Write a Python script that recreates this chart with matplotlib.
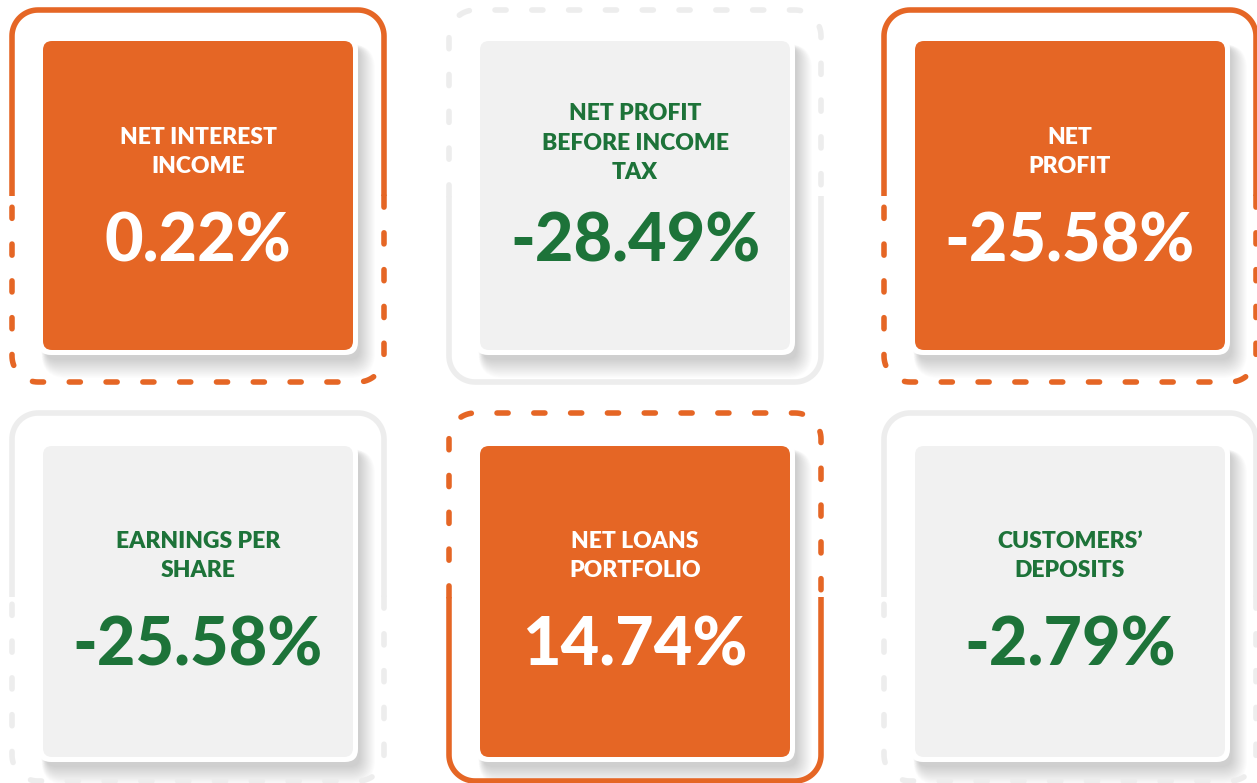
import matplotlib.pyplot as plt
import numpy as np
from matplotlib.patches import FancyBboxPatch

plt.rcParams['lines.scale_dashes'] = False

# card data
titles = [
    ["NET INTEREST", "INCOME"],
    ["NET PROFIT", "BEFORE INCOME", "TAX"],
    ["NET", "PROFIT"],
    ["EARNINGS PER", "SHARE"],
    ["NET LOANS", "PORTFOLIO"],
    ["CUSTOMERS\u2019", "DEPOSITS"],
]
values = ["0.22%", "-28.49%", "-25.58%", "-25.58%", "14.74%", "-2.79%"]
highlight = [True, False, True, False, True, False]

ORANGE = "#E56625"
GREEN = "#1D7339"
GREY_CARD = "#F1F1F1"
GREY_FRAME = "#EDEDED"

# layout (pixels, y going down)
col_cx = [198, 635, 1070]
frame_top = [10, 413]
frame_bot = [382, 781]
card_top = [41, 446]
card_bot = [350, 757]
title_base = [173, 577]
value_base = [261, 666]

fig = plt.figure(figsize=(12.57, 7.83), dpi=100)
ax = fig.add_axes([0, 0, 1, 1])
ax.set_xlim(0, 1257)
ax.set_ylim(783, 0)
ax.axis('off')


def arc(cx, cy, r, a0, a1, n=20):
    t = np.radians(np.linspace(a0, a1, n))
    return list(zip(cx + r * np.cos(t), cy + r * np.sin(t)))


def frame_halves(x0, y0, x1, y1, r, ys):
    # upper half: left side up, top edge, right side down (y axis points down)
    upper = [(x0, ys)] + arc(x0 + r, y0 + r, r, 180, 270) + arc(x1 - r, y0 + r, r, 270, 360) + [(x1, ys)]
    lower = [(x1, ys)] + arc(x1 - r, y1 - r, r, 0, 90) + arc(x0 + r, y1 - r, r, 90, 180) + [(x0, ys)]
    return np.array(upper), np.array(lower)


lw = 4.0
dash = (0, (8.0, 18.5))

for i in range(6):
    row, col = divmod(i, 3)
    cx = col_cx[col]
    hot = highlight[i]
    fcol = ORANGE if hot else GREY_FRAME

    # outer frame, half solid and half dashed
    fx0, fx1 = cx - 186, cx + 186
    fy0, fy1 = frame_top[row], frame_bot[row]
    ys = (fy0 + fy1) / 2
    upper, lower = frame_halves(fx0, fy0, fx1, fy1, 26, ys)
    top_dashed = (col == 1)
    ax.plot(upper[:, 0], upper[:, 1], color=fcol, lw=lw,
            linestyle=dash if top_dashed else '-', dash_capstyle='round',
            solid_capstyle='butt')
    ax.plot(lower[:, 0], lower[:, 1], color=fcol, lw=lw,
            linestyle='-' if top_dashed else dash, dash_capstyle='round',
            solid_capstyle='butt')

    # card with soft shadow and white rim
    x0, x1 = cx - 155, cx + 155
    y0, y1 = card_top[row], card_bot[row]
    for k in range(16):
        ax.add_patch(FancyBboxPatch((x0 + 3 - k * 0.3, y0 + 6 - k * 0.2), x1 - x0 + 4 + k * 1.3,
                                    y1 - y0 + 4 + k * 1.4,
                                    boxstyle="round,pad=0,rounding_size=%g" % (10 + k),
                                    fc='black', ec='none', alpha=0.01))
    ax.add_patch(FancyBboxPatch((x0 - 5, y0 - 5), x1 - x0 + 10, y1 - y0 + 10,
                                boxstyle="round,pad=0,rounding_size=13",
                                fc='white', ec='none'))
    ax.add_patch(FancyBboxPatch((x0, y0), x1 - x0, y1 - y0,
                                boxstyle="round,pad=0,rounding_size=9",
                                fc=ORANGE if hot else GREY_CARD, ec='none'))

    tcol = 'white' if hot else GREEN
    lines = titles[i]
    base = title_base[row] + (6 if len(lines) > 2 else 0)
    for j, line in enumerate(reversed(lines)):
        ax.text(cx, base - 29.5 * j, line, ha='center', va='baseline',
                fontsize=16.5, fontweight='heavy', family='Lato', color=tcol)
    ax.text(cx, value_base[row], values[i], ha='center', va='baseline',
            fontsize=48, fontweight='black', family='Lato', color=tcol)

fig.savefig('out.png', dpi=100, facecolor='white')
